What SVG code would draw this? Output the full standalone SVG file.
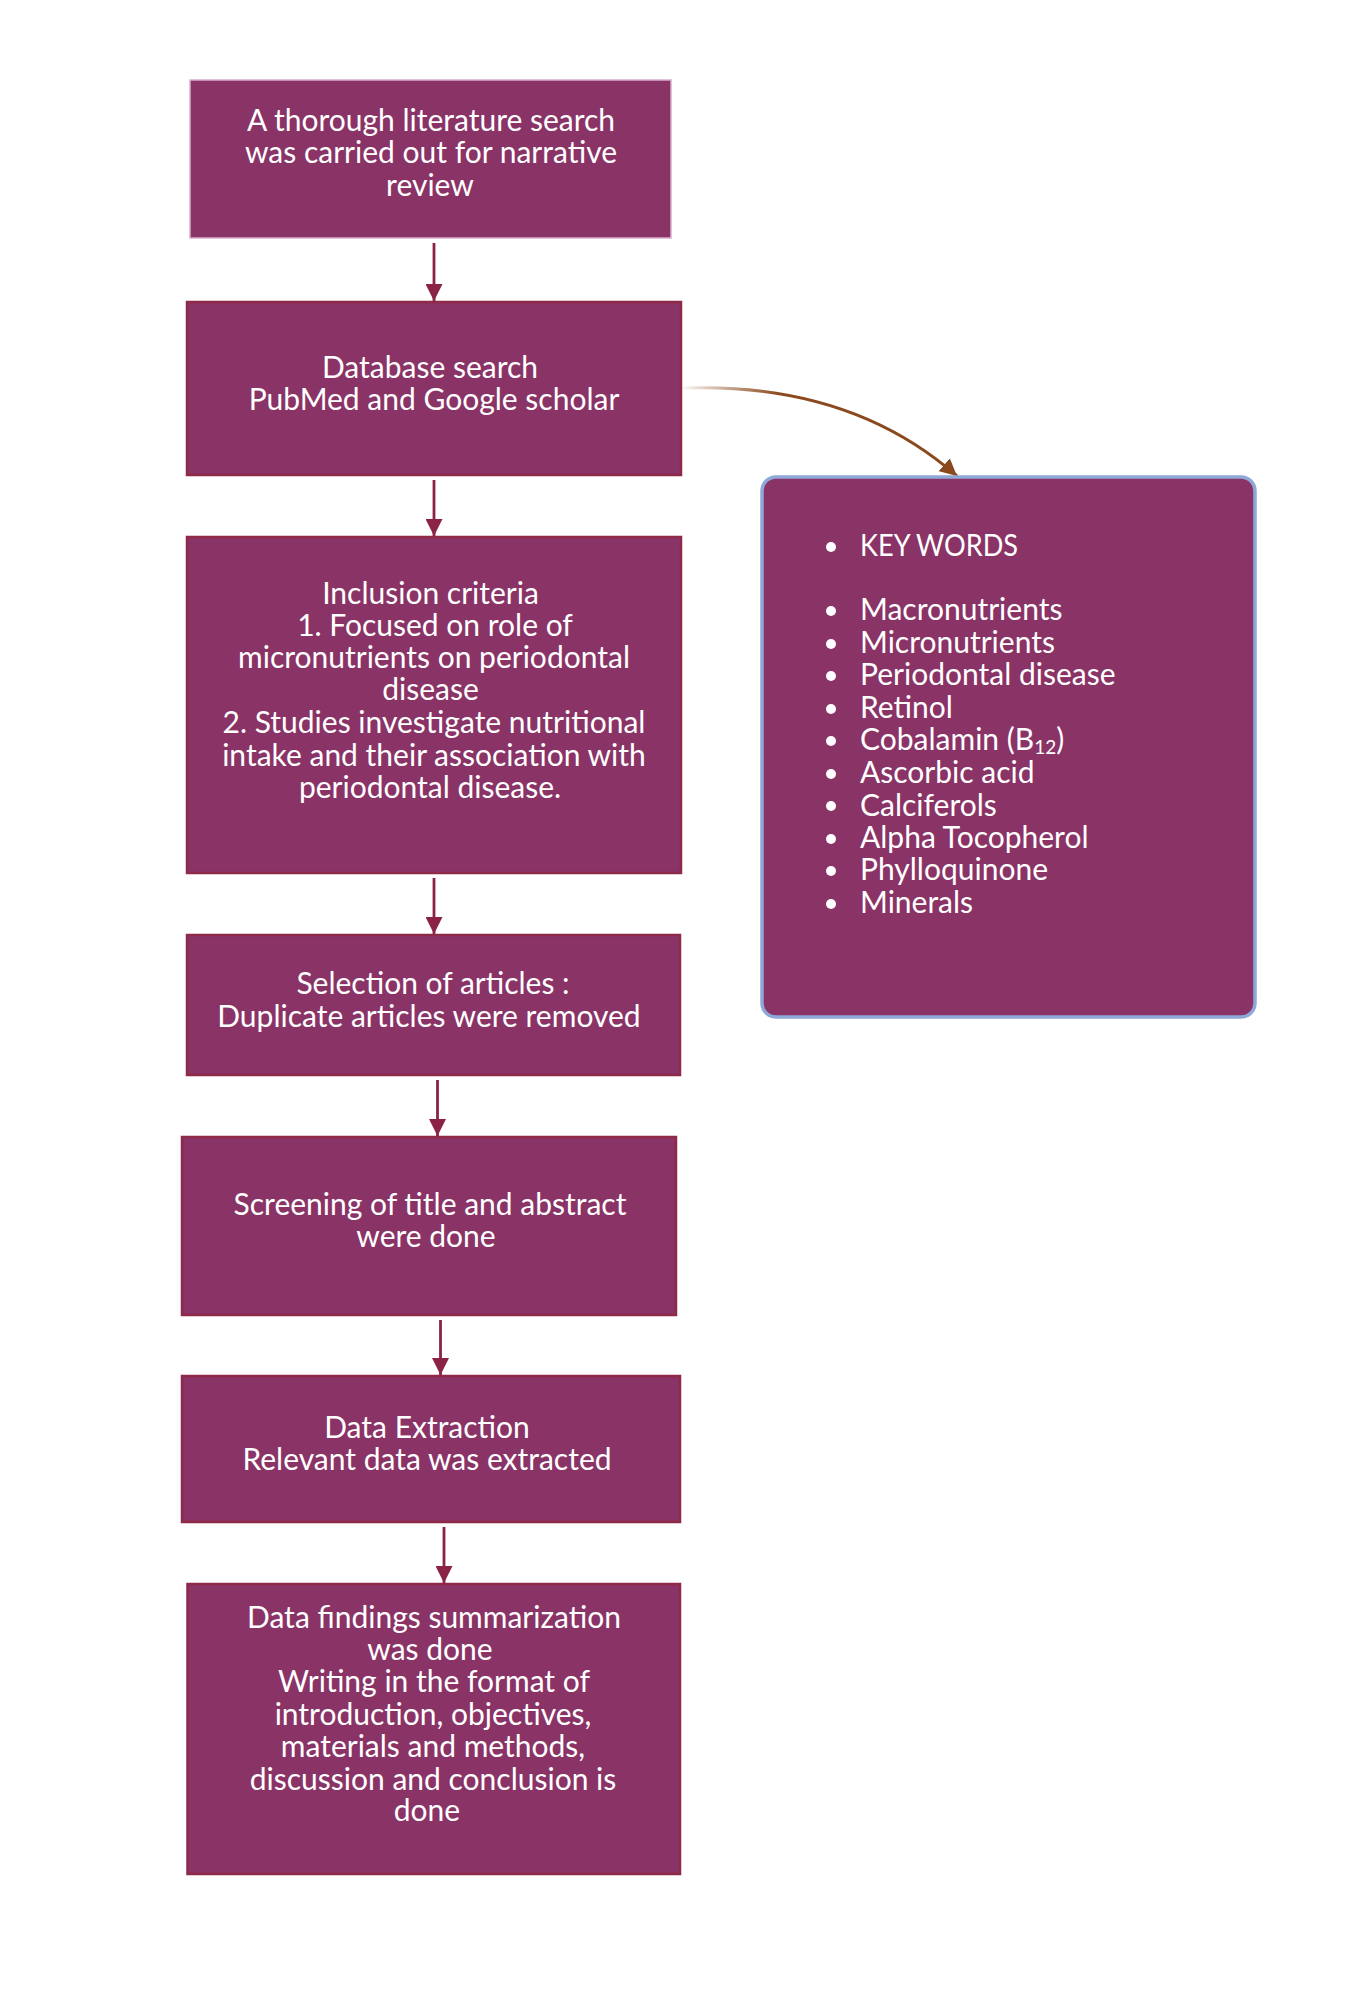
<svg xmlns="http://www.w3.org/2000/svg" width="1365" height="2000" viewBox="0 0 1365 2000">
<style>
  .box { fill: #8A3366; stroke: #8E2A48; stroke-width: 2.5; }
  .box1 { fill: #8A3366; stroke: #D9AECB; stroke-width: 1.5; }
  .kbox { fill: #8A3366; stroke: #8EA9D8; stroke-width: 3.5; }
  .t { font-family: Lato, "Liberation Sans", sans-serif; font-size: 30px; fill: #FFFFFF; text-anchor: middle; }
  .k { font-family: Lato, "Liberation Sans", sans-serif; font-size: 30px; fill: #FFFFFF; }
  .sub { font-size: 19px; }
  .bul { fill: #FFFFFF; }
  .conn { stroke: #8B2346; stroke-width: 2.8; fill: none; marker-end: url(#ah); }
  .curve { stroke: url(#cg); stroke-width: 3; fill: none; marker-end: url(#ahb); }
</style>
<defs>
  <marker id="ah" viewBox="0 0 16 16" refX="16" refY="8" markerWidth="17" markerHeight="17" markerUnits="userSpaceOnUse" orient="auto">
    <path d="M0,0 L16,8 L0,16 Z" fill="#8B2346"/>
  </marker>
  <marker id="ahb" viewBox="0 0 16 16" refX="16" refY="8" markerWidth="17" markerHeight="17" markerUnits="userSpaceOnUse" orient="auto">
    <path d="M0,0 L16,8 L0,16 Z" fill="#8B4A1E"/>
  </marker>
  <linearGradient id="cg" x1="0" y1="0" x2="1" y2="0">
    <stop offset="0" stop-color="#8B4A1E" stop-opacity="0.05"/>
    <stop offset="0.35" stop-color="#8B4A1E" stop-opacity="1"/>
    <stop offset="1" stop-color="#8B4A1E" stop-opacity="1"/>
  </linearGradient>
</defs>

<g id="connectors">
  <line class="conn" x1="434" y1="243" x2="434" y2="301"/>
  <line class="conn" x1="434" y1="480" x2="434" y2="536"/>
  <line class="conn" x1="434" y1="878" x2="434" y2="934"/>
  <line class="conn" x1="437.5" y1="1080" x2="437.5" y2="1136"/>
  <line class="conn" x1="440.5" y1="1320" x2="440.5" y2="1375"/>
  <line class="conn" x1="444" y1="1527" x2="444" y2="1583"/>
  <path class="curve" d="M683,388 Q850,382 957,476"/>
</g>

<g id="node1">
  <rect class="box1" x="190" y="80" width="481" height="158"/>
  <text class="t" x="431" y="131">A thorough literature search</text>
  <text class="t" x="431" y="163">was carried out for narrative</text>
  <text class="t" x="430" y="196">review</text>
</g>

<g id="node2">
  <rect class="box" x="187" y="302" width="494" height="173"/>
  <text class="t" x="430" y="378">Database search</text>
  <text class="t" x="434" y="410">PubMed and Google scholar</text>
</g>

<g id="node3">
  <rect class="box" x="187" y="537" width="494" height="336"/>
  <text class="t" x="430.5" y="604">Inclusion criteria</text>
  <text class="t" x="435" y="636">1. Focused on role of</text>
  <text class="t" x="434" y="668">micronutrients on periodontal</text>
  <text class="t" x="430.5" y="700">disease</text>
  <text class="t" x="434" y="733">2. Studies investigate nutritional</text>
  <text class="t" x="434" y="766">intake and their association with</text>
  <text class="t" x="430" y="798">periodontal disease.</text>
</g>

<g id="node4">
  <rect class="box" x="187" y="935" width="493" height="140"/>
  <text class="t" x="433" y="994">Selection of articles :</text>
  <text class="t" x="429" y="1027">Duplicate articles were removed</text>
</g>

<g id="node5">
  <rect class="box" x="182" y="1137" width="494" height="178"/>
  <text class="t" x="430" y="1215">Screening of title and abstract</text>
  <text class="t" x="426" y="1247">were done</text>
</g>

<g id="node6">
  <rect class="box" x="182" y="1376" width="498" height="146"/>
  <text class="t" x="427" y="1438">Data Extraction</text>
  <text class="t" x="427" y="1470">Relevant data was extracted</text>
</g>

<g id="node7">
  <rect class="box" x="187.5" y="1584" width="492.5" height="290"/>
  <text class="t" x="434" y="1628">Data findings summarization</text>
  <text class="t" x="430" y="1660">was done</text>
  <text class="t" x="434" y="1692">Writing in the format of</text>
  <text class="t" x="433" y="1725">introduction, objectives,</text>
  <text class="t" x="433" y="1757">materials and methods,</text>
  <text class="t" x="433" y="1790">discussion and conclusion is</text>
  <text class="t" x="427" y="1821">done</text>
</g>

<g id="keywords">
  <rect class="kbox" x="762" y="477" width="493" height="540" rx="14" ry="14"/>
  <circle class="bul" cx="831" cy="547" r="5"/>
  <text class="k" x="860" y="556" textLength="158" lengthAdjust="spacingAndGlyphs">KEY WORDS</text>
  <circle class="bul" cx="831" cy="611" r="5"/>
  <text class="k" x="860" y="620">Macronutrients</text>
  <circle class="bul" cx="831" cy="644" r="5"/>
  <text class="k" x="860" y="653">Micronutrients</text>
  <circle class="bul" cx="831" cy="676" r="5"/>
  <text class="k" x="860" y="685">Periodontal disease</text>
  <circle class="bul" cx="831" cy="709" r="5"/>
  <text class="k" x="860" y="718">Retinol</text>
  <circle class="bul" cx="831" cy="741" r="5"/>
  <text class="k" x="860" y="750">Cobalamin (B<tspan class="sub" dy="4">12</tspan><tspan dy="-4">)</tspan></text>
  <circle class="bul" cx="831" cy="774" r="5"/>
  <text class="k" x="860" y="783">Ascorbic acid</text>
  <circle class="bul" cx="831" cy="806" r="5"/>
  <text class="k" x="860" y="816">Calciferols</text>
  <circle class="bul" cx="831" cy="839" r="5"/>
  <text class="k" x="860" y="848">Alpha Tocopherol</text>
  <circle class="bul" cx="831" cy="871" r="5"/>
  <text class="k" x="860" y="880">Phylloquinone</text>
  <circle class="bul" cx="831" cy="904" r="5"/>
  <text class="k" x="860" y="913">Minerals</text>
</g>
</svg>
